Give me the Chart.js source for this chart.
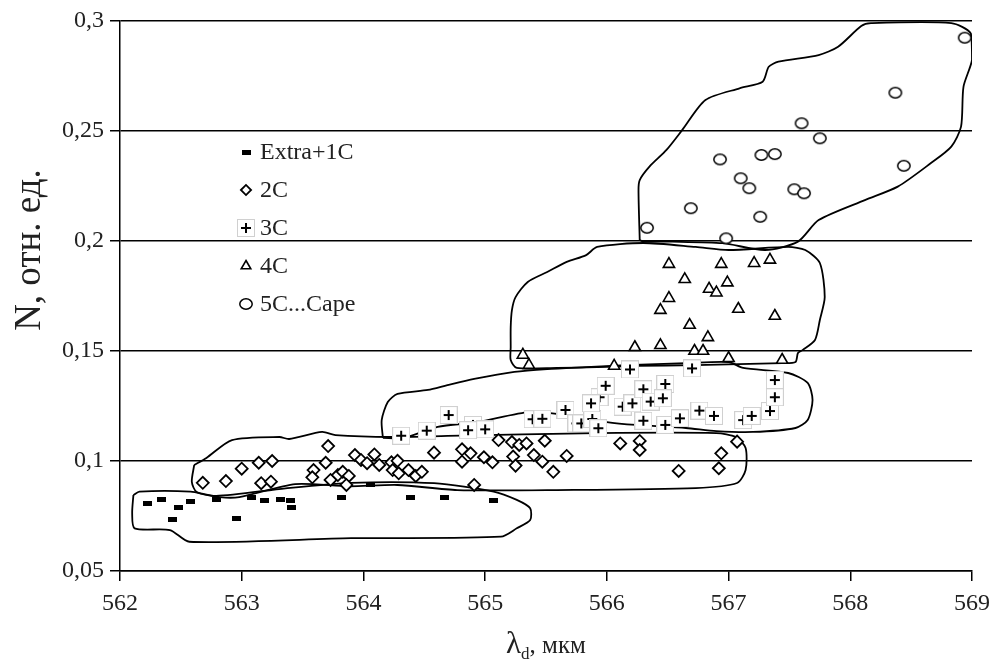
<!DOCTYPE html>
<html>
<head>
<meta charset="utf-8">
<script src="https://cdn.jsdelivr.net/npm/chart.js@4.4.1/dist/chart.umd.min.js"></script>
<style>
  body { margin: 0; background: #fff; }
  #wrap { width: 998px; height: 663px; position: relative; }
</style>
</head>
<body>
<div id="wrap"><canvas id="chart"></canvas></div>
<script>
// series names (legend)
const seriesNames = ["Extra+1C", "2C", "3C", "4C", "5C...Cape"];

// x axis ticks and y tick labels
const xTicks = [562, 563, 564, 565, 566, 567, 568, 569];
const yTickLabels = ["0,05", "0,1", "0,15", "0,2", "0,25", "0,3"];

// Extra+1C
const extraX = [562.23, 562.34, 562.48, 562.58, 562.43, 562.79, 562.96, 563.08, 563.19, 563.32, 563.40, 563.41, 563.82, 564.06, 564.39, 564.67, 565.07];
const extraY = [0.0808, 0.0826, 0.0790, 0.0817, 0.0732, 0.0827, 0.0738, 0.0833, 0.0821, 0.0826, 0.0821, 0.0790, 0.0832, 0.0891, 0.0832, 0.0832, 0.0821];

// 2C
const c2X = [562.68, 562.87, 563.00, 563.14, 563.25, 563.16, 563.24, 563.71, 563.69, 563.59, 563.58, 563.73, 563.79, 563.83, 563.88, 563.86,
  563.93, 563.98, 564.03, 564.09, 564.13, 564.23, 564.28, 564.24, 564.29, 564.37, 564.43, 564.48, 564.58, 564.81, 564.88, 564.81,
  564.99, 565.06, 564.91, 565.11, 565.22, 565.28, 565.34, 565.49, 565.23, 565.25, 565.40, 565.47, 565.56, 565.67, 566.11, 566.27,
  566.27, 566.59, 566.92, 566.94, 567.07];
const c2Y = [0.0901, 0.0909, 0.0965, 0.0992, 0.1000, 0.0899, 0.0906, 0.1068, 0.0992, 0.0959, 0.0926, 0.0914, 0.0936, 0.0951, 0.0932, 0.0891,
  0.1027, 0.1005, 0.0990, 0.1030, 0.0982, 0.0994, 0.1001, 0.0959, 0.0944, 0.0959, 0.0932, 0.0951, 0.1038, 0.1053, 0.1035, 0.0997,
  0.1017, 0.0994, 0.0891, 0.1095, 0.1086, 0.1073, 0.1080, 0.1092, 0.1020, 0.0979, 0.1027, 0.0997, 0.0951, 0.1023, 0.1080, 0.1091,
  0.1050, 0.0955, 0.0967, 0.1035, 0.1088];

// 3C
const c3X = [564.31, 564.52, 564.70, 564.90, 565.00, 564.86, 565.39, 565.47, 565.66, 565.75, 565.79, 565.88, 565.94, 565.99, 565.87, 565.93,
  566.13, 566.21, 566.30, 566.36, 566.48, 566.46, 566.30, 566.48, 566.60, 566.76, 566.88, 566.70, 567.12, 567.19, 567.34, 567.38, 567.38, 566.19];
const c3Y = [0.1115, 0.1138, 0.1209, 0.1164, 0.1144, 0.1140, 0.1190, 0.1192, 0.1232, 0.1171, 0.1171, 0.1191, 0.1290, 0.1342, 0.1262, 0.1149,
  0.1247, 0.1262, 0.1326, 0.1270, 0.1350, 0.1285, 0.1183, 0.1164, 0.1194, 0.1229, 0.1205, 0.1421, 0.1186, 0.1205, 0.1227, 0.1290, 0.1368, 0.1416];

// 4C
const c4X = [566.51, 566.94, 567.21, 567.34, 566.64, 566.84, 566.90, 566.99, 566.51, 566.44, 567.08, 567.38, 566.68, 566.83, 566.23, 566.44,
  566.72, 566.79, 567.00, 567.44, 565.31, 565.36, 566.06, 566.19];
const c4Y = [0.1895, 0.1895, 0.1899, 0.1914, 0.1826, 0.1782, 0.1765, 0.1811, 0.1740, 0.1686, 0.1691, 0.1659, 0.1618, 0.1562, 0.1517, 0.1526,
  0.1500, 0.1500, 0.1467, 0.1459, 0.1482, 0.1436, 0.1432, 0.1416];

// 5C...Cape
const c5X = [568.94, 568.37, 567.60, 567.75, 566.93, 567.27, 567.38, 568.44, 567.10, 567.17, 567.54, 567.62, 566.69, 567.26, 566.33, 566.98];
const c5Y = [0.2924, 0.2674, 0.2535, 0.2467, 0.2371, 0.2391, 0.2395, 0.2342, 0.2285, 0.2240, 0.2235, 0.2217, 0.2149, 0.2110, 0.2060, 0.2012];

// hand drawn group outlines (x, y pairs in axis units)
const env1 = [[562.11,0.0845],[562.16,0.0861],[562.58,0.0861],[562.79,0.0841],[563.36,0.0876],[563.90,0.0901],[564.58,0.0899],[565.07,0.0861],
  [565.26,0.0823],[565.37,0.0785],[565.37,0.0732],[565.26,0.0694],[565.13,0.0656],[563.90,0.0649],[562.57,0.0633],[562.41,0.0686],
  [562.12,0.0694],[562.10,0.0762],[562.11,0.0845]];
const env2 = [[562.61,0.0982],[562.71,0.1014],[562.92,0.1095],[563.31,0.1109],[563.39,0.1100],[563.66,0.1132],[563.77,0.1118],[564.23,0.1109],
  [564.69,0.1114],[565.92,0.1127],[566.90,0.1127],[567.06,0.1109],[567.14,0.1059],[567.14,0.0959],[567.07,0.0900],[566.73,0.0877],
  [565.59,0.0868],[564.77,0.0868],[564.28,0.0891],[563.88,0.0885],[563.44,0.0895],[562.98,0.0836],[562.82,0.0836],[562.63,0.0859],
  [562.59,0.0905],[562.61,0.0982]];
const env3 = [[564.16,0.1105],[564.15,0.1186],[564.20,0.1268],[564.28,0.1305],[564.53,0.1323],[564.69,0.1345],[564.91,0.1373],[565.24,0.1405],
  [565.51,0.1418],[565.83,0.1427],[566.16,0.1436],[566.65,0.1445],[567.00,0.1450],[567.12,0.1423],[567.49,0.1400],[567.65,0.1355],
  [567.69,0.1277],[567.65,0.1186],[567.55,0.1150],[567.20,0.1132],[566.90,0.1136],[566.65,0.1150],[566.24,0.1164],[566.00,0.1177],
  [565.67,0.1209],[565.37,0.1223],[564.94,0.1177],[564.61,0.1155],[564.33,0.1105],[564.16,0.1105]];
const env4 = [[565.21,0.1518],[565.21,0.1609],[565.22,0.1686],[565.25,0.1745],[565.35,0.1814],[565.51,0.1859],[565.67,0.1905],[565.83,0.1936],
  [565.92,0.1973],[566.30,0.1991],[566.73,0.1973],[567.00,0.1959],[567.49,0.1973],[567.63,0.1959],[567.75,0.1900],[567.79,0.1745],
  [567.75,0.1641],[567.71,0.1550],[567.61,0.1505],[567.57,0.1491],[567.55,0.1450],[567.44,0.1445],[566.73,0.1436],[566.24,0.1432],
  [565.92,0.1427],[565.59,0.1423],[565.26,0.1423],[565.21,0.1459],[565.21,0.1518]];
const env5 = [[566.27,0.2005],[566.26,0.2232],[566.27,0.2277],[566.35,0.2338],[566.49,0.2414],[566.62,0.2505],[566.81,0.2641],[567.09,0.2694],
  [567.28,0.2724],[567.33,0.2792],[567.41,0.2815],[567.74,0.2845],[567.90,0.2883],[568.09,0.2977],[568.17,0.2990],[568.83,0.2990],
  [568.99,0.2944],[569.00,0.2823],[568.93,0.2701],[568.91,0.2520],[568.83,0.2429],[568.66,0.2353],[568.39,0.2247],[568.12,0.2186],
  [567.74,0.2095],[567.57,0.1997],[567.30,0.1959],[566.95,0.1990],[566.54,0.1997],[566.30,0.1997],[566.27,0.2005]];

const serif = '"Liberation Serif", "Times New Roman", serif';

function pts(xs, ys) {
  return xs.map((x, i) => ({ x: x, y: ys[i] }));
}
function envPts(arr) {
  return arr.map(p => ({ x: p[0], y: p[1] }));
}

// marker images
function makeDash() {
  const c = document.createElement('canvas');
  c.width = 9; c.height = 5;
  const g = c.getContext('2d');
  g.fillStyle = '#000';
  g.fillRect(0, 0, 9, 5);
  return c;
}
function makePlusBox() {
  const c = document.createElement('canvas');
  c.width = 18; c.height = 18;
  const g = c.getContext('2d');
  g.fillStyle = '#fff';
  g.fillRect(0, 0, 18, 18);
  g.strokeStyle = '#d0d0d0';
  g.lineWidth = 1;
  g.strokeRect(0.5, 0.5, 17, 17);
  g.strokeStyle = '#000';
  g.lineWidth = 2;
  g.beginPath();
  g.moveTo(4, 9); g.lineTo(14, 9);
  g.moveTo(9, 4); g.lineTo(9, 14);
  g.stroke();
  return c;
}
function makeRing() {
  const c = document.createElement('canvas');
  c.width = 16; c.height = 14;
  const g = c.getContext('2d');
  g.fillStyle = '#fff';
  g.strokeStyle = '#000';
  g.lineWidth = 1.5;
  g.beginPath();
  g.ellipse(8, 7, 6.2, 5.2, 0, 0, Math.PI * 2);
  g.fill();
  g.stroke();
  return c;
}

const dashImg = makeDash();
const plusImg = makePlusBox();
const ringImg = makeRing();

function envelope(arr) {
  return {
    data: envPts(arr),
    showLine: true,
    borderColor: '#000',
    borderWidth: 1.8,
    pointRadius: 0,
    tension: 0.25,
    fill: false
  };
}

const insideLegend = {
  id: 'insideLegend',
  afterDatasetsDraw(chart) {
    const { ctx, chartArea } = chart;
    ctx.save();
    ctx.font = '24px ' + serif;
    ctx.textBaseline = 'middle';
    for (let i = 0; i < seriesNames.length; i++) {
      const ds = chart.data.datasets[i];
      const x = chartArea.left + 126;
      const y = chartArea.top + 131 + i * 38;
      ctx.fillStyle = ds.pointBackgroundColor;
      ctx.strokeStyle = ds.pointBorderColor;
      ctx.lineWidth = ds.pointBorderWidth;
      Chart.helpers.drawPoint(ctx, {
        pointStyle: ds.pointStyle, radius: ds.pointRadius * 0.85, borderWidth: ds.pointBorderWidth, rotation: 0
      }, x, y);
      ctx.fillStyle = '#222';
      ctx.fillText(seriesNames[i], x + 14, y + 1);
    }
    ctx.restore();
  }
};

const axisTitles = {
  id: 'axisTitles',
  afterDraw(chart) {
    const { ctx, chartArea } = chart;
    ctx.save();
    ctx.fillStyle = '#222';
    ctx.textBaseline = 'alphabetic';
    // x title: lambda with subscript d
    const f1 = '31px ' + serif, f2 = '17px ' + serif, f3 = '25px ' + serif;
    ctx.font = f1; const w1 = ctx.measureText('λ').width;
    ctx.font = f2; const w2 = ctx.measureText('d').width;
    ctx.font = f3; const w3 = ctx.measureText(', мкм').width;
    let x = (chartArea.left + chartArea.right) / 2 - (w1 + w2 + w3) / 2;
    const base = 653;
    ctx.font = f1; ctx.fillText('λ', x, base); x += w1;
    ctx.font = f2; ctx.fillText('d', x, base + 6); x += w2;
    ctx.font = f3; ctx.fillText(', мкм', x, base);
    // y title
    ctx.translate(30, 250);
    ctx.rotate(-Math.PI / 2);
    ctx.font = '37px ' + serif;
    ctx.textAlign = 'center';
    ctx.textBaseline = 'middle';
    ctx.fillText('N, отн. ед.', 0, 0);
    ctx.restore();
  }
};

new Chart(document.getElementById('chart'), {
  type: 'scatter',
  data: {
    datasets: [
      { label: seriesNames[0], data: pts(extraX, extraY), pointStyle: dashImg, pointRadius: 5,
        pointBackgroundColor: '#000', pointBorderColor: '#000', pointBorderWidth: 1 },
      { label: seriesNames[1], data: pts(c2X, c2Y), pointStyle: 'rectRot', pointRadius: 6,
        pointBackgroundColor: '#fff', pointBorderColor: '#000', pointBorderWidth: 1.8 },
      { label: seriesNames[2], data: pts(c3X, c3Y), pointStyle: plusImg, pointRadius: 9,
        pointBackgroundColor: '#fff', pointBorderColor: '#000', pointBorderWidth: 1 },
      { label: seriesNames[3], data: pts(c4X, c4Y), pointStyle: 'triangle', pointRadius: 6.5,
        pointBackgroundColor: '#fff', pointBorderColor: '#000', pointBorderWidth: 1.6 },
      { label: seriesNames[4], data: pts(c5X, c5Y), pointStyle: ringImg, pointRadius: 6,
        pointBackgroundColor: '#fff', pointBorderColor: '#000', pointBorderWidth: 1.5 },
      envelope(env1),
      envelope(env2),
      envelope(env3),
      envelope(env4),
      envelope(env5)
    ]
  },
  options: {
    responsive: true,
    maintainAspectRatio: false,
    animation: false,
    layout: { padding: { top: 21, right: 20, left: 0, bottom: 0 } },
    plugins: {
      legend: { display: false },
      tooltip: { enabled: false }
    },
    scales: {
      x: {
        type: 'linear',
        min: 562,
        max: 569,
        afterFit: (s) => { s.height = 92; },
        afterBuildTicks: (s) => { s.ticks = xTicks.map(v => ({ value: v })); },
        ticks: {
          font: { family: serif, size: 24 },
          color: '#222',
          padding: 8,
          maxRotation: 0,
          callback: (v) => String(v)
        },
        grid: { drawOnChartArea: false, color: '#000', tickLength: 10, lineWidth: 1.5 },
        border: { color: '#000', width: 1.5 }
      },
      y: {
        min: 0.05,
        max: 0.3,
        afterFit: (s) => { s.width = 120; },
        afterBuildTicks: (s) => { s.ticks = yTickLabels.map((t, i) => ({ value: 0.05 + i * 0.05 })); },
        ticks: {
          font: { family: serif, size: 24 },
          color: '#222',
          padding: 6,
          callback: (v, i) => yTickLabels[i]
        },
        grid: { color: '#000', tickLength: 10, lineWidth: 1.5 },
        border: { color: '#000', width: 1.5 }
      }
    }
  },
  plugins: [insideLegend, axisTitles]
});
</script>
</body>
</html>
